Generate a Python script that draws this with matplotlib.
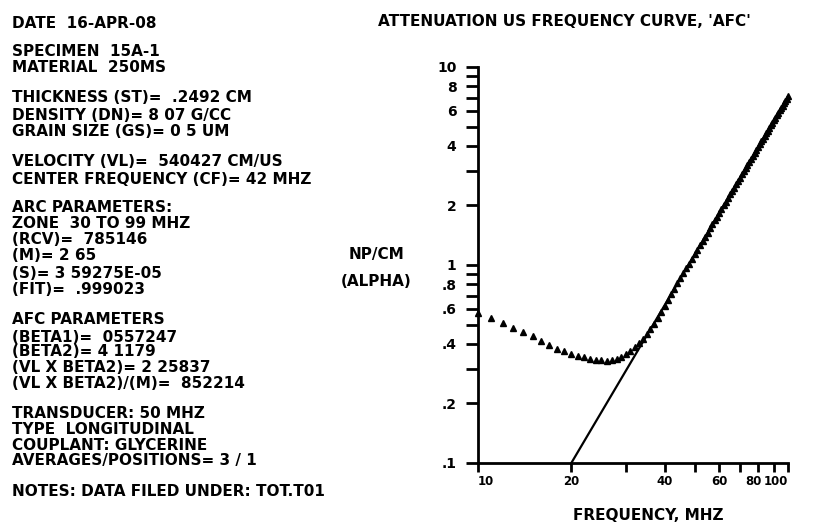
import matplotlib
matplotlib.use("Agg")
import matplotlib.pyplot as plt
from matplotlib.ticker import FixedLocator, NullFormatter, FixedFormatter, NullLocator
from matplotlib.transforms import offset_copy

plt.rcParams['font.family'] = ['DejaVu Sans']
plt.rcParams['font.weight'] = 'bold'

# measured attenuation, one point per MHz
freq = list(range(10, 101))
alpha = [
    0.57, 0.54, 0.512, 0.48, 0.46, 0.438, 0.415, 0.395, 0.377, 0.366,
    0.357, 0.349, 0.342, 0.337, 0.333, 0.330, 0.329, 0.331, 0.336, 0.344,
    0.355, 0.369, 0.385, 0.404, 0.425, 0.448, 0.474, 0.505, 0.540, 0.580,
    0.624,
    0.668, 0.713, 0.759, 0.807, 0.857, 0.908, 0.961, 1.017, 1.074, 1.133,
    1.194, 1.257, 1.322, 1.389, 1.459, 1.530, 1.603, 1.679, 1.757, 1.837,
    1.919, 2.004, 2.091, 2.180, 2.272, 2.366, 2.462, 2.560, 2.661, 2.765,
    2.870, 2.978, 3.089, 3.203, 3.320, 3.438, 3.558, 3.684, 3.809, 3.940,
    4.072, 4.205, 4.343, 4.484, 4.625, 4.770, 4.920, 5.069, 5.224, 5.383,
    5.542, 5.705, 5.873, 6.039, 6.211, 6.387, 6.562, 6.742, 6.927, 7.115,
]

# power law fit line (straight on log-log)
fit_freq = [20, 100]
fit_alpha = [0.1, 7.09]

x_ticks = [10, 20, 30, 40, 50, 60, 70, 80, 90, 100]
x_label_vals = [10, 20, 40, 60, 80, 100]
x_label_txt = ['10', '20', '40', '60', '80', '100']
y_ticks = [0.1, 0.2, 0.3, 0.4, 0.5, 0.6, 0.7, 0.8, 0.9, 1, 2, 3, 4, 5, 6, 7, 8, 9, 10]
y_labels = ['.1', '.2', '', '.4', '', '.6', '', '.8', '', '1', '2', '', '4', '', '6', '', '8', '', '10']

info_lines = [
    (23, "DATE  16-APR-08"),
    (52, "SPECIMEN  15A-1"),
    (68, "MATERIAL  250MS"),
    (98, "THICKNESS (ST)=  .2492 CM"),
    (115, "DENSITY (DN)= 8 07 G/CC"),
    (132, "GRAIN SIZE (GS)= 0 5 UM"),
    (162, "VELOCITY (VL)=  540427 CM/US"),
    (179, "CENTER FREQUENCY (CF)= 42 MHZ"),
    (208, "ARC PARAMETERS:"),
    (224, "ZONE  30 TO 99 MHZ"),
    (240, "(RCV)=  785146"),
    (256, "(M)= 2 65"),
    (273, "(S)= 3 59275E-05"),
    (290, "(FIT)=  .999023"),
    (320, "AFC PARAMETERS"),
    (337, "(BETA1)=  0557247"),
    (352, "(BETA2)= 4 1179"),
    (367, "(VL X BETA2)= 2 25837"),
    (383, "(VL X BETA2)/(M)=  852214"),
    (413, "TRANSDUCER: 50 MHZ"),
    (430, "TYPE  LONGITUDINAL"),
    (445, "COUPLANT: GLYCERINE"),
    (461, "AVERAGES/POSITIONS= 3 / 1"),
    (491, "NOTES: DATA FILED UNDER: TOT.T01"),
]

W, H = 813, 523
fig = plt.figure(figsize=(W / 100, H / 100), dpi=100)
fig.patch.set_facecolor('white')


def fx(px):
    return px / W


def fy(py):
    return 1 - py / H


ax = fig.add_axes([fx(478), 60 / H, 310 / W, 396 / H])
ax.set_xscale('log')
ax.set_yscale('log')
ax.set_xlim(10, 100)
ax.set_ylim(0.1, 10)

ax.plot(fit_freq, fit_alpha, color='black', lw=1.6, zorder=2)
ax.plot(freq, alpha, linestyle='none', marker='^', markersize=5,
        color='black', clip_on=False, zorder=3)

for side in ['top', 'right']:
    ax.spines[side].set_visible(False)
for side in ['left', 'bottom']:
    ax.spines[side].set_linewidth(2)

ax.xaxis.set_major_locator(FixedLocator(x_ticks))
ax.xaxis.set_major_formatter(NullFormatter())
ax.xaxis.set_minor_locator(NullLocator())
ax.yaxis.set_major_locator(FixedLocator(y_ticks))
ax.yaxis.set_major_formatter(FixedFormatter(y_labels))
ax.yaxis.set_minor_locator(NullLocator())
ax.tick_params(axis='both', direction='out', width=2)
ax.tick_params(axis='x', length=6.5)
ax.tick_params(axis='y', length=8.5, pad=7, labelsize=10)

# x tick labels placed by hand: the plotter squeezed the end ones inward
label_ha = ['left', 'center', 'center', 'center', 'right', 'right']
label_dx = [0, 0, 0, 0, 4, 0]
for val, txt, ha, dx in zip(x_label_vals, x_label_txt, label_ha, label_dx):
    tr = offset_copy(ax.get_xaxis_transform(), fig=fig, x=dx, y=-12, units='dots')
    ax.text(val, 0, txt, transform=tr, ha=ha, va='top', fontsize=8.5,
            fontweight='bold', clip_on=False)

fs = 11
fig.text(fx(378), fy(22), "ATTENUATION US FREQUENCY CURVE, 'AFC'",
         fontsize=fs, fontweight='bold', va='center', ha='left')
fig.text(fx(376), fy(254), "NP/CM", fontsize=fs, fontweight='bold',
         va='center', ha='center')
fig.text(fx(376), fy(281), "(ALPHA)", fontsize=fs, fontweight='bold',
         va='center', ha='center')
fig.text(fx(648), fy(515), "FREQUENCY, MHZ", fontsize=fs, fontweight='bold',
         va='center', ha='center')

for py, txt in info_lines:
    fig.text(fx(12), fy(py), txt, fontsize=fs, fontweight='bold',
             va='center', ha='left')

fig.savefig('out.png', dpi=100)
